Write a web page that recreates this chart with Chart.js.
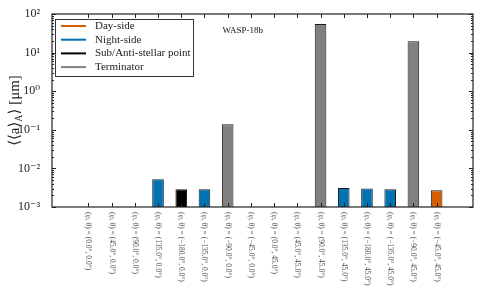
<!DOCTYPE html>
<html>
<head>
<meta charset="utf-8">
<script src="https://cdn.jsdelivr.net/npm/chart.js@4.4.1/dist/chart.umd.min.js"></script>
<style>
  html, body { margin: 0; padding: 0; background: #fff; }
  #wrap { width: 483px; height: 290px; }
</style>
</head>
<body>
<div id="wrap"><canvas id="graph1"></canvas></div>
<script>
// categories (phi, theta) and mean particle size per location, in micron
var categories = [
    '(φ, θ) = (0.0°, 0.0°)', '(φ, θ) = (45.0°, 0.0°)', '(φ, θ) = (90.0°, 0.0°)', '(φ, θ) = (135.0°, 0.0°)',
    '(φ, θ) = (−180.0°, 0.0°)', '(φ, θ) = (−135.0°, 0.0°)', '(φ, θ) = (−90.0°, 0.0°)', '(φ, θ) = (−45.0°, 0.0°)',
    '(φ, θ) = (0.0°, 45.0°)', '(φ, θ) = (45.0°, 45.0°)', '(φ, θ) = (90.0°, 45.0°)', '(φ, θ) = (135.0°, 45.0°)',
    '(φ, θ) = (−180.0°, 45.0°)', '(φ, θ) = (−135.0°, 45.0°)', '(φ, θ) = (−90.0°, 45.0°)', '(φ, θ) = (−45.0°, 45.0°)'
];
var sizes = [null, null, null, 0.0052, 0.0029, 0.0029, 0.14, null,
             null, null, 55, 0.0031, 0.0030, 0.0029, 19.6, 0.0027];
var kinds = ['sub', 'day', 'term', 'night', 'sub', 'night', 'term', 'day',
             'day', 'day', 'term', 'night', 'night', 'night', 'term', 'day'];
var groups = ['day', 'night', 'sub', 'term'];
var groupLabels = ['Day-side', 'Night-side', 'Sub/Anti-stellar point', 'Terminator'];
var groupColors = ['#d55e00', '#0072b2', '#000000', '#808080'];
var yTicks = [1e-3, 1e-2, 1e-1, 1e0, 1e1, 1e2];

var serif = '"Liberation Serif", "DejaVu Serif", serif';

function sup(n) {
    var m = {'-': '⁻', '0': '⁰', '1': '¹', '2': '²', '3': '³', '4': '⁴', '5': '⁵', '6': '⁶', '7': '⁷', '8': '⁸', '9': '⁹'};
    return String(n).split('').map(function(c) { return m[c]; }).join('');
}
function isPow(v) {
    var l = Math.log10(v);
    return Math.abs(l - Math.round(l)) < 1e-6;
}

var datasets = groups.map(function(g, gi) {
    var pts = [];
    sizes.forEach(function(v, i) {
        if (kinds[i] === g && v !== null) pts.push({x: i, y: v});
    });
    return {
        label: groupLabels[gi],
        data: pts,
        backgroundColor: groupColors[gi],
        borderColor: '#1a1a1a',
        borderWidth: 1,
        grouped: false,
        barPercentage: 0.5,
        categoryPercentage: 1
    };
});

var decor = {
    id: 'decor',
    beforeDraw: function(chart) {
        var c = chart.ctx;
        c.save();
        c.fillStyle = '#fff';
        c.fillRect(0, 0, chart.width, chart.height);
        c.restore();
    },
    afterDatasetsDraw: function(chart) {
        var c = chart.ctx, a = chart.chartArea;
        var xs = chart.scales.x, ys = chart.scales.y;
        c.save();
        c.strokeStyle = '#222';
        c.lineWidth = 1;
        c.beginPath();
        categories.forEach(function(cat, i) {
            var px = Math.round(xs.getPixelForValue(i)) + 0.5;
            c.moveTo(px, a.bottom); c.lineTo(px, a.bottom - 4);
            c.moveTo(px, a.top); c.lineTo(px, a.top + 4);
        });
        // major and minor log ticks, both sides, pointing in
        yTicks.forEach(function(t, k) {
            for (var m = 1; m <= 9; m++) {
                if (k === yTicks.length - 1 && m > 1) break;
                var py = Math.round(ys.getPixelForValue(t * m)) + 0.5;
                var len = m === 1 ? 4 : 2;
                c.moveTo(a.left, py); c.lineTo(a.left + len, py);
                c.moveTo(a.right, py); c.lineTo(a.right - len, py);
            }
        });
        c.stroke();
        c.lineWidth = 1.2;
        c.strokeRect(a.left, a.top, a.right - a.left, a.bottom - a.top);
        c.restore();
    },
    afterDraw: function(chart) {
        var c = chart.ctx, a = chart.chartArea;
        var xs = chart.scales.x;
        c.save();
        // rotated category labels
        c.fillStyle = '#555';
        c.font = '7.5px ' + serif;
        c.textAlign = 'left';
        c.textBaseline = 'middle';
        categories.forEach(function(cat, i) {
            c.save();
            c.translate(xs.getPixelForValue(i), a.bottom + 5);
            c.rotate(Math.PI / 2);
            c.fillText(cat, 0, 0);
            c.restore();
        });
        // y axis title with subscript
        c.save();
        c.translate(15, (a.top + a.bottom) / 2);
        c.rotate(-Math.PI / 2);
        c.fillStyle = '#222';
        c.textBaseline = 'middle';
        var big = '15px ' + serif, small = '10px ' + serif;
        var parts = [['⟨⟨a⟩', big, 0], ['A', small, 4], ['⟩ [μm]', big, 0]];
        var w = 0;
        parts.forEach(function(p) { c.font = p[1]; w += c.measureText(p[0]).width; });
        var x = -w / 2;
        c.textAlign = 'left';
        parts.forEach(function(p) {
            c.font = p[1];
            c.fillText(p[0], x, p[2]);
            x += c.measureText(p[0]).width;
        });
        c.restore();
        // planet name
        c.fillStyle = '#111';
        c.font = '9px ' + serif;
        c.textAlign = 'left';
        c.textBaseline = 'middle';
        c.fillText('WASP-18b', a.left + (a.right - a.left) * 0.405, a.top + 17);
        // legend box
        var lx = a.left + 3, ly = a.top + 5, lw = 138, lh = 57;
        c.strokeStyle = '#333';
        c.lineWidth = 1;
        c.fillStyle = '#fff';
        c.fillRect(lx, ly, lw, lh);
        c.strokeRect(lx + 0.5, ly + 0.5, lw, lh);
        c.font = '11px ' + serif;
        groupLabels.forEach(function(lab, i) {
            var ry = ly + 7 + i * 13.7;
            c.strokeStyle = groupColors[i];
            c.lineWidth = 2;
            c.beginPath();
            c.moveTo(lx + 6, ry); c.lineTo(lx + 31, ry);
            c.stroke();
            c.fillStyle = '#222';
            c.fillText(lab, lx + 40, ry);
        });
        c.restore();
    }
};

var ctx = document.getElementById('graph1');

var myChart = new Chart(ctx, {
    type: 'bar',
    data: { datasets: datasets },
    options: {
        responsive: true,
        maintainAspectRatio: false,
        animation: false,
        layout: { padding: { top: 14, right: 10, left: 0, bottom: 0 } },
        plugins: {
            legend: { display: false },
            tooltip: { enabled: false }
        },
        scales: {
            x: {
                type: 'linear',
                min: -1,
                max: 16,
                grid: { display: false },
                border: { display: false },
                ticks: { display: false },
                afterBuildTicks: function(scale) {
                    scale.ticks = categories.map(function(c, i) { return { value: i }; });
                },
                afterFit: function(scale) { scale.height = 83; }
            },
            y: {
                type: 'logarithmic',
                min: 1e-3,
                max: 1e2,
                grid: { display: false },
                border: { display: false },
                ticks: {
                    autoSkip: false,
                    padding: 4,
                    color: '#222',
                    font: { family: serif, size: 12 },
                    callback: function(v) {
                        if (!isPow(v)) return '';
                        return '10' + sup(Math.round(Math.log10(v)));
                    }
                },
                afterFit: function(scale) { scale.width = 52; }
            }
        }
    },
    plugins: [decor]
});
</script>
</body>
</html>
